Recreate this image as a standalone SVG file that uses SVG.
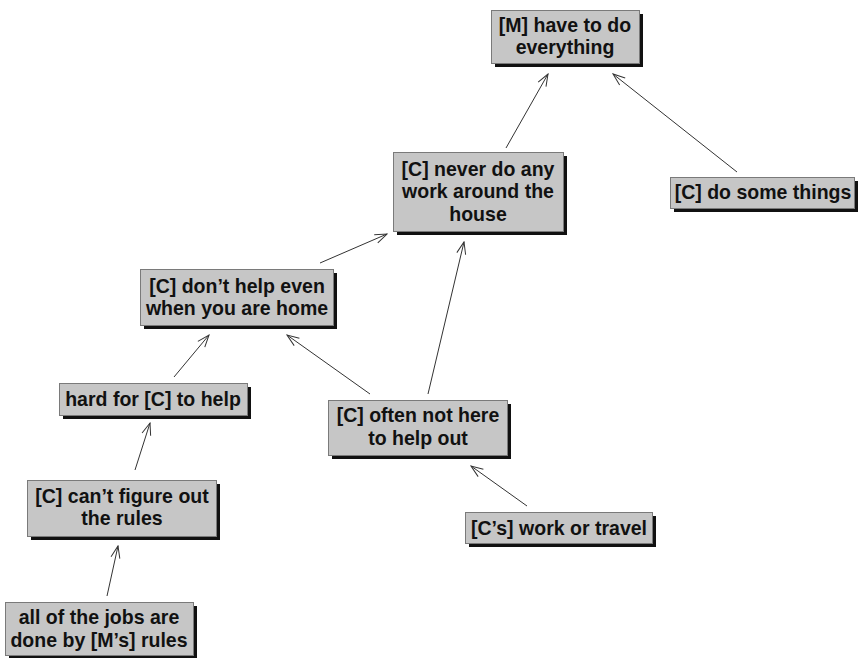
<svg xmlns="http://www.w3.org/2000/svg" width="858" height="658" viewBox="0 0 858 658">
<style>
.sh{fill:#111;}
.bx{fill:#c6c6c6;stroke:#7a7a7a;stroke-width:1;}
.t{font-family:"Liberation Sans",Arial,Helvetica,sans-serif;font-weight:bold;font-size:21px;fill:#111;text-anchor:middle;}
.c{stroke:#333;stroke-width:1;fill:none;marker-end:url(#ah);}
</style>
<defs>
<marker id="ah" markerUnits="userSpaceOnUse" markerWidth="14" markerHeight="12" viewBox="0 0 14 12" refX="13" refY="6" orient="auto">
<path d="M1,1.5 L13,6 L1,10.5" fill="none" stroke="#333" stroke-width="1"/>
</marker>
</defs>
<rect width="858" height="658" fill="#fff"/>
<g id="connectors">
<line class="c" x1="506" y1="148" x2="548" y2="74"/>
<line class="c" x1="737" y1="172" x2="613" y2="74"/>
<line class="c" x1="320" y1="263" x2="387" y2="234"/>
<line class="c" x1="428" y1="394" x2="464" y2="242"/>
<line class="c" x1="370" y1="394" x2="287" y2="335"/>
<line class="c" x1="174" y1="377" x2="209" y2="335"/>
<line class="c" x1="135" y1="470" x2="150" y2="423"/>
<line class="c" x1="107" y1="596" x2="118" y2="546"/>
<line class="c" x1="527" y1="506" x2="471" y2="466"/>
</g>
<g id="n1">
<rect class="sh" x="495" y="14" width="148" height="53"/>
<rect class="bx" x="491.5" y="10.5" width="148" height="53"/>
<g transform="translate(565,0) scale(0.93,1)">
<text class="t" x="0" y="32">[M] have to do</text>
<text class="t" x="0" y="54">everything</text>
</g>
</g>
<g id="n2">
<rect class="sh" x="674" y="181" width="184" height="31"/>
<rect class="bx" x="670.5" y="177.5" width="184" height="31"/>
<g transform="translate(763,0) scale(0.93,1)">
<text class="t" x="0" y="199">[C] do some things</text>
</g>
</g>
<g id="n3">
<rect class="sh" x="397" y="156" width="170" height="79"/>
<rect class="bx" x="393.5" y="152.5" width="170" height="79"/>
<g transform="translate(478,0) scale(0.93,1)">
<text class="t" x="0" y="176">[C] never do any</text>
<text class="t" x="0" y="198">work around the</text>
<text class="t" x="0" y="221">house</text>
</g>
</g>
<g id="n4">
<rect class="sh" x="144" y="273" width="193" height="56"/>
<rect class="bx" x="140.5" y="269.5" width="193" height="56"/>
<g transform="translate(237,0) scale(0.93,1)">
<text class="t" x="0" y="293">[C] don’t help even</text>
<text class="t" x="0" y="315">when you are home</text>
</g>
</g>
<g id="n5">
<rect class="sh" x="63" y="387" width="188" height="32"/>
<rect class="bx" x="59.5" y="383.5" width="188" height="32"/>
<g transform="translate(153,0) scale(0.93,1)">
<text class="t" x="0" y="406">hard for [C] to help</text>
</g>
</g>
<g id="n6">
<rect class="sh" x="332" y="404" width="179" height="55"/>
<rect class="bx" x="328.5" y="400.5" width="179" height="55"/>
<g transform="translate(418,0) scale(0.93,1)">
<text class="t" x="0" y="422">[C] often not here</text>
<text class="t" x="0" y="445">to help out</text>
</g>
</g>
<g id="n7">
<rect class="sh" x="31" y="484" width="189" height="56"/>
<rect class="bx" x="27.5" y="480.5" width="189" height="56"/>
<g transform="translate(122,0) scale(0.93,1)">
<text class="t" x="0" y="503">[C] can’t figure out</text>
<text class="t" x="0" y="525">the rules</text>
</g>
</g>
<g id="n8">
<rect class="sh" x="9" y="606" width="188" height="53"/>
<rect class="bx" x="5.5" y="602.5" width="188" height="53"/>
<g transform="translate(99,0) scale(0.93,1)">
<text class="t" x="0" y="624">all of the jobs are</text>
<text class="t" x="0" y="647">done by [M’s] rules</text>
</g>
</g>
<g id="n9">
<rect class="sh" x="469" y="516" width="187" height="31"/>
<rect class="bx" x="465.5" y="512.5" width="187" height="31"/>
<g transform="translate(559,0) scale(0.93,1)">
<text class="t" x="0" y="535">[C’s] work or travel</text>
</g>
</g>
</svg>
